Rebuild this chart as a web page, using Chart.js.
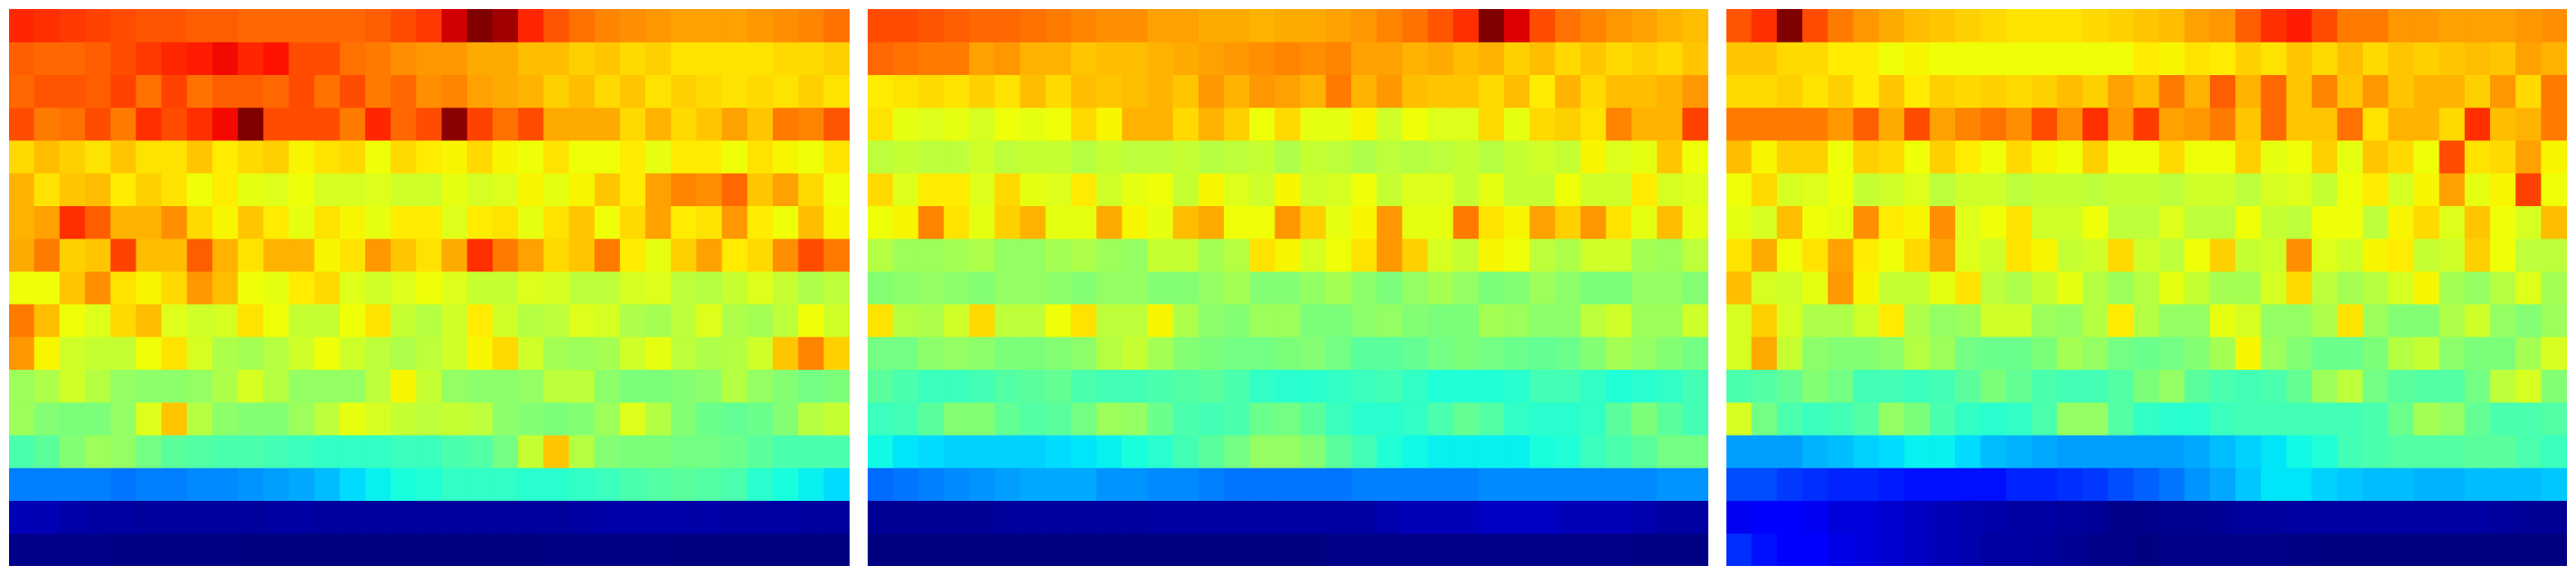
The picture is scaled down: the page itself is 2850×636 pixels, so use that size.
<!DOCTYPE html>
<html>
<head>
<meta charset="utf-8">
<title>Heatmaps</title>
<script src="https://cdn.jsdelivr.net/npm/chart.js@4"></script>
<style>
  html, body { margin: 0; padding: 0; background: #fff; overflow: hidden; }
  canvas { position: absolute; top: 10px; }
  #panelA { left: 10px; }
  #panelB { left: 960px; }
  #panelC { left: 1910px; }
</style>
</head>
<body>
<canvas id="panelA" width="930" height="616"></canvas>
<canvas id="panelB" width="930" height="616"></canvas>
<canvas id="panelC" width="930" height="616"></canvas>
<script>
// values, 0-100, one line per row from the top
const panelA = [
  [87,86,85,84,83,82,82,81,81,80,80,80,80,80,81,83,85,93,100,97,87,82,79,77,76,75,74,74,74,75,76,77,79],
  [81,80,80,81,83,85,87,88,90,87,89,83,83,79,78,76,75,75,73,73,71,71,69,70,68,69,67,67,67,67,68,68,69],
  [80,82,82,81,84,79,84,79,81,81,80,83,79,83,78,80,76,77,74,73,72,69,71,68,70,67,69,68,67,68,67,69,67],
  [83,78,79,83,78,86,83,86,90,100,83,83,83,78,87,80,83,99,84,79,83,73,73,73,68,72,68,70,74,70,78,77,82],
  [68,71,69,67,70,67,67,70,66,68,69,65,67,68,64,68,66,65,68,65,64,67,64,64,66,63,66,66,64,67,65,64,67],
  [72,67,70,71,66,69,67,64,66,63,62,64,61,61,62,60,60,63,61,62,65,63,65,70,66,74,77,76,80,70,74,68,64],
  [72,74,86,81,72,72,76,68,65,70,66,63,67,65,63,66,66,62,66,67,63,67,70,64,68,74,66,67,75,66,64,71,65],
  [73,78,69,70,84,71,71,81,72,67,72,72,65,67,75,70,67,73,86,78,74,68,70,78,66,63,69,74,66,68,76,83,78],
  [64,64,70,76,67,65,68,75,71,64,63,66,68,62,60,62,64,62,59,59,62,61,58,58,61,62,58,57,59,62,59,56,58],
  [78,71,64,62,68,71,62,60,61,67,64,59,59,64,67,59,57,60,66,60,57,58,62,61,56,55,58,62,56,55,58,64,60],
  [75,65,60,59,59,64,67,61,56,55,57,60,64,60,58,56,58,60,65,68,60,55,54,55,60,63,58,56,57,60,70,77,69],
  [54,56,60,57,53,52,52,53,56,61,57,53,53,53,58,65,59,53,52,52,53,58,58,52,50,50,51,52,57,53,51,49,50],
  [54,51,50,50,53,62,70,57,52,51,51,54,58,63,61,59,58,59,58,52,51,50,51,54,62,57,51,48,47,48,51,57,59],
  [44,46,51,54,53,49,46,45,44,44,43,42,41,41,41,42,42,44,45,49,59,70,57,51,50,50,49,49,48,46,44,44,44],
  [25,25,25,25,24,25,25,26,26,27,28,29,31,34,36,38,39,41,41,41,40,40,41,42,44,45,46,45,44,40,38,36,34],
  [5,4.5,3.5,3,3,2.5,2.5,2.5,2.5,2.5,3,3,2.5,2.5,2.5,2.5,2.5,2.5,2.5,2.5,2.5,2.5,3,3.5,3.5,3.5,3.5,3.5,3,3,3,2.5,2.5],
  [1,1,1,1,0.5,0.5,0.5,0.5,0.5,0,0,0,0,0,0,0,0,0,0,0,0,0.5,0.5,0.5,0.5,0.5,0,0,0,0,0,0,0]
];

const panelB = [
  [83,83,82,81,80,80,79,78,77,76,76,74,74,73,73,72,73,73,74,75,77,79,82,86,100,92,83,79,77,75,74,72,71],
  [80,79,78,78,74,75,72,72,70,71,71,72,73,74,75,76,77,76,77,74,74,72,73,71,72,69,71,68,70,68,69,68,70],
  [66,67,68,67,69,67,71,68,71,70,71,72,70,75,72,75,74,72,78,72,75,71,70,70,68,71,66,72,68,71,71,72,75],
  [67,63,62,63,61,64,63,64,68,65,72,72,68,72,69,64,68,63,63,65,60,64,62,62,68,63,68,69,67,77,72,72,84],
  [58,59,58,58,60,58,59,59,57,59,58,58,59,57,58,59,56,59,58,56,58,57,58,59,57,59,60,59,65,62,63,70,64],
  [68,62,66,66,62,68,63,62,66,60,63,64,59,65,62,60,65,60,61,64,59,62,62,59,63,59,59,64,60,60,66,61,62],
  [64,65,77,67,63,69,72,63,63,73,65,63,71,73,64,64,75,69,63,65,75,63,63,78,67,65,74,69,75,67,63,71,63],
  [57,54,54,55,56,53,53,55,56,54,53,59,59,55,57,67,65,61,64,67,75,69,61,59,65,64,58,56,60,60,55,54,58],
  [51,52,53,52,51,53,53,52,51,53,53,51,51,53,55,51,51,53,55,52,50,53,55,53,50,51,54,52,50,50,53,53,51],
  [67,57,56,60,68,58,58,64,67,58,58,65,56,52,51,54,54,50,50,52,53,51,50,50,55,54,52,52,58,60,54,54,60],
  [49,49,52,53,52,50,50,51,52,57,59,55,51,50,49,49,50,51,49,46,46,47,49,50,49,48,47,48,51,55,53,51,49],
  [46,44,42,42,43,45,46,47,44,43,43,44,45,46,44,41,40,40,41,42,43,41,39,39,39,40,43,43,41,39,40,41,43],
  [42,43,46,51,51,47,45,46,49,54,53,48,44,43,44,48,49,46,42,40,40,41,44,47,45,41,40,40,41,46,50,46,43],
  [37,35,34,33,33,33,33,34,35,36,38,40,43,46,49,53,53,51,46,43,39,37,36,36,36,36,38,39,42,44,46,49,49],
  [23,24,25,26,27,28,29,29,29,27,27,26,26,25,24,24,24,24,24,25,25,25,25,25,26,26,26,26,26,26,26,27,27],
  [2,2,2,2,2,2.5,2.5,2.5,2.5,2.5,2.5,3,3,3,3,3,3,3,3,3,4,5,5,5,6,6,6,5,5,5,4,3,3],
  [0,0,0,0,0,0,0,0,0,0,0,0,0,0,0,0,0,0,1,1,1,1,1,1,1,1,1,1,1,1,0.5,0.5,0.5]
];

const panelC = [
  [82,86,100,83,78,75,73,71,70,69,68,67,67,67,68,69,70,71,74,75,81,86,88,83,78,78,75,75,74,74,74,75,76],
  [70,70,68,68,66,66,64,65,64,64,64,64,64,64,64,64,66,65,67,66,69,67,70,68,71,68,70,69,70,71,70,74,72],
  [68,68,69,67,69,66,70,66,69,68,69,68,69,71,69,74,71,78,72,81,72,80,70,77,70,75,70,72,72,69,75,68,78],
  [78,78,78,78,75,81,73,83,74,77,79,76,83,76,86,75,85,74,75,78,70,80,70,70,79,67,72,72,68,86,71,72,78],
  [71,65,69,69,64,69,68,64,69,66,64,68,65,64,69,64,64,68,64,64,69,63,64,69,63,70,68,64,83,67,68,74,65],
  [64,68,61,62,64,59,60,62,58,60,60,58,59,59,58,59,59,58,60,60,58,61,62,59,64,66,61,65,74,63,65,84,64],
  [63,61,71,64,63,76,66,65,76,62,64,67,60,60,64,58,58,62,58,58,64,59,58,64,64,58,65,68,62,70,64,61,71],
  [67,73,64,67,74,66,64,68,74,62,60,67,65,59,60,68,60,58,64,69,59,60,76,62,60,65,66,59,60,69,64,58,58],
  [71,61,60,63,75,65,59,59,63,67,58,56,59,63,57,54,57,63,59,55,55,61,68,58,55,57,61,65,55,53,57,62,55],
  [61,69,61,56,56,60,66,56,53,54,60,60,54,53,57,66,57,53,53,63,61,53,53,56,67,54,51,51,56,60,53,51,54],
  [61,73,59,52,51,51,52,57,54,49,48,48,50,55,53,49,48,49,51,55,65,54,51,48,48,50,57,59,52,50,50,55,61],
  [44,45,47,51,49,43,43,42,43,46,50,47,44,43,43,45,50,53,46,44,43,44,47,54,58,49,46,45,45,49,58,61,51],
  [61,49,44,42,43,45,53,50,44,41,40,41,44,53,53,45,41,40,40,42,43,43,43,43,43,44,48,55,53,47,44,44,45],
  [28,28,28,30,31,33,34,36,36,34,31,30,29,28,28,28,28,28,29,31,33,35,37,39,43,44,45,45,45,46,46,44,42],
  [20,20,18,17,16,16,15,14,14,14,14,16,16,17,18,20,22,24,27,29,32,35,35,33,32,31,31,30,30,31,31,31,32],
  [10,12,12,10,8,8,7,6,5,4,3.5,3,3,2.5,2,1,1,1.5,1.5,2,2.5,2.5,3,3,3,3,3,3,3,3,2.5,2,2],
  [17,14,12,12,9,8,7,6,5,4,3,3,2.5,2,1,1,0,1,1,1,1,1,0.5,0,0,0,0,0,0,0,0,0,0]
];

const columns = panelA[0].map((v, i) => i);

// jet colormap, same breakpoints as matplotlib
const jetR = [[0,0],[0.35,0],[0.66,1],[0.89,1],[1,0.5]];
const jetG = [[0,0],[0.125,0],[0.375,1],[0.64,1],[0.91,0],[1,0]];
const jetB = [[0,0.5],[0.11,1],[0.34,1],[0.65,0],[1,0]];

function channel(stops, t) {
  for (let i = 1; i < stops.length; i++) {
    if (t <= stops[i][0]) {
      const a = stops[i-1], b = stops[i];
      return Math.round(255 * (a[1] + (b[1]-a[1]) * (t-a[0]) / (b[0]-a[0])));
    }
  }
  return Math.round(255 * stops[stops.length-1][1]);
}

function jet(value) {
  const t = value / 100;
  return `rgb(${channel(jetR,t)},${channel(jetG,t)},${channel(jetB,t)})`;
}

// every row is a stacked bar dataset of height 1, coloured per column
function drawPanel(id, rows) {
  new Chart(document.getElementById(id), {
    type: "bar",
    data: {
      labels: columns,
      datasets: rows.map(row => ({
        data: row.map(() => 1),
        backgroundColor: row.map(jet),
        borderWidth: 0,
        barPercentage: 1,
        categoryPercentage: 1,
        inflateAmount: 0.5
      }))
    },
    options: {
      responsive: false,
      animation: false,
      plugins: { legend: { display: false }, tooltip: { enabled: false } },
      scales: {
        x: { stacked: true, display: false },
        y: { stacked: true, display: false, reverse: true, min: 0, max: rows.length }
      }
    }
  });
}

drawPanel("panelA", panelA);
drawPanel("panelB", panelB);
drawPanel("panelC", panelC);
</script>
</body>
</html>
